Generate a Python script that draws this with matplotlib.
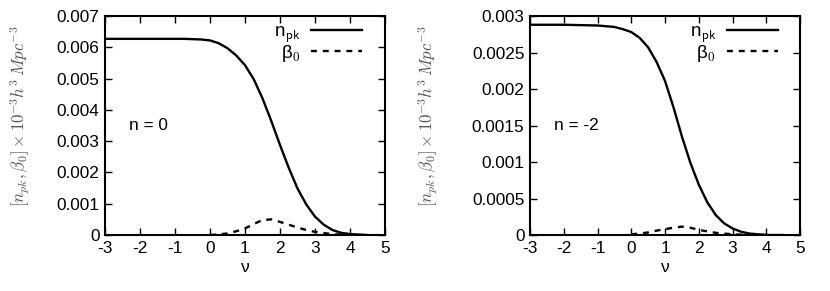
import matplotlib
matplotlib.use("Agg")
import matplotlib.pyplot as plt

plt.rcParams["font.family"] = ["Liberation Sans", "DejaVu Sans"]
plt.rcParams["mathtext.fontset"] = "cm"

# readings from the two panels (values in units of 1e-3)
nu_grid = [-3, -2, -1, -0.75, -0.5, -0.25, 0, 0.25, 0.5, 0.75, 1, 1.25, 1.5,
           1.75, 2, 2.25, 2.5, 2.75, 3, 3.25, 3.5, 3.75, 4, 4.5]
npk_n0 = [6.27, 6.27, 6.27, 6.27, 6.26, 6.25, 6.22, 6.13, 5.97, 5.74, 5.43,
          4.98, 4.37, 3.65, 2.88, 2.15, 1.49, 0.98, 0.59, 0.33, 0.16, 0.07,
          0.03, 0.0]
npk_nm2 = [2.88, 2.88, 2.87, 2.86, 2.85, 2.82, 2.78, 2.70, 2.57, 2.37, 2.11,
           1.75, 1.35, 0.99, 0.69, 0.45, 0.275, 0.16, 0.09, 0.045, 0.02, 0.01,
           0.0, 0.0]

nu_beta = [0, 0.25, 0.5, 0.75, 1, 1.25, 1.5, 1.75, 2, 2.25, 2.5, 2.75,
           3, 3.25, 3.5, 3.75, 4]
beta_n0 = [0.0, 0.02, 0.05, 0.12, 0.21, 0.35, 0.48, 0.50, 0.42, 0.33, 0.24,
           0.16, 0.10, 0.06, 0.03, 0.01, 0.0]
beta_nm2 = [0.01, 0.02, 0.035, 0.06, 0.08, 0.10, 0.115, 0.10, 0.07, 0.05,
            0.03, 0.02, 0.01, 0.005, 0.0, 0.0, 0.0]

panels = [
    (npk_n0, beta_n0, "n = 0", 0.007, [0, 0.001, 0.002, 0.003, 0.004, 0.005, 0.006, 0.007],
     ["0", "0.001", "0.002", "0.003", "0.004", "0.005", "0.006", "0.007"], 0.0035,
     (-0.26, 0.54)),
    (npk_nm2, beta_nm2, "n = -2", 0.003, [0, 0.0005, 0.001, 0.0015, 0.002, 0.0025, 0.003],
     ["0", "0.0005", "0.001", "0.0015", "0.002", "0.0025", "0.003"], 0.0015,
     (-0.333, 0.54)),
]
rects = [[0.1265, 0.1924, 0.3373, 0.7526], [0.6386, 0.1924, 0.3253, 0.7526]]

fig = plt.figure(figsize=(8.3, 2.91), dpi=100)
ylab = r"$[n_{pk},\beta_0]\times10^{-3}h^3\,Mpc^{-3}$"

for rect, (npk, beta, note, ymax, yt, ytl, ynote, labpos) in zip(rects, panels):
    ax = fig.add_axes(rect)
    ax.plot(nu_grid, [v * 1e-3 for v in npk], color="black", lw=1.7,
            label=r"n$_{\mathsf{pk}}$")
    ax.plot(nu_beta, [v * 1e-3 for v in beta], color="black", lw=1.7,
            dashes=(2.5, 2.5), label=r"β$_{\mathsf{0}}$")
    ax.set_xlim(-3, 5)
    ax.set_ylim(0, ymax)
    ax.set_xticks(range(-3, 6))
    ax.set_xticklabels([str(i) for i in range(-3, 6)])
    ax.set_yticks(yt)
    ax.set_yticklabels(ytl)
    ax.tick_params(direction="in", top=True, right=True, length=5, width=1,
                   labelsize=12.4, pad=4)
    for s in ax.spines.values():
        s.set_linewidth(1.5)
    ax.set_xlabel("ν", fontsize=12.4, labelpad=3)
    ax.set_ylabel(ylab, fontsize=12.2, color="#555555")
    ax.yaxis.set_label_coords(*labpos)
    ax.text(-2.3, ynote, note, fontsize=12.4, va="center")
    ax.legend(loc="upper right", bbox_to_anchor=(0.945, 1.0), frameon=False,
              markerfirst=False, handlelength=2.7, fontsize=13.5,
              borderaxespad=0.0, labelspacing=-0.1, handletextpad=0.6)

fig.savefig("out.png", dpi=100)
